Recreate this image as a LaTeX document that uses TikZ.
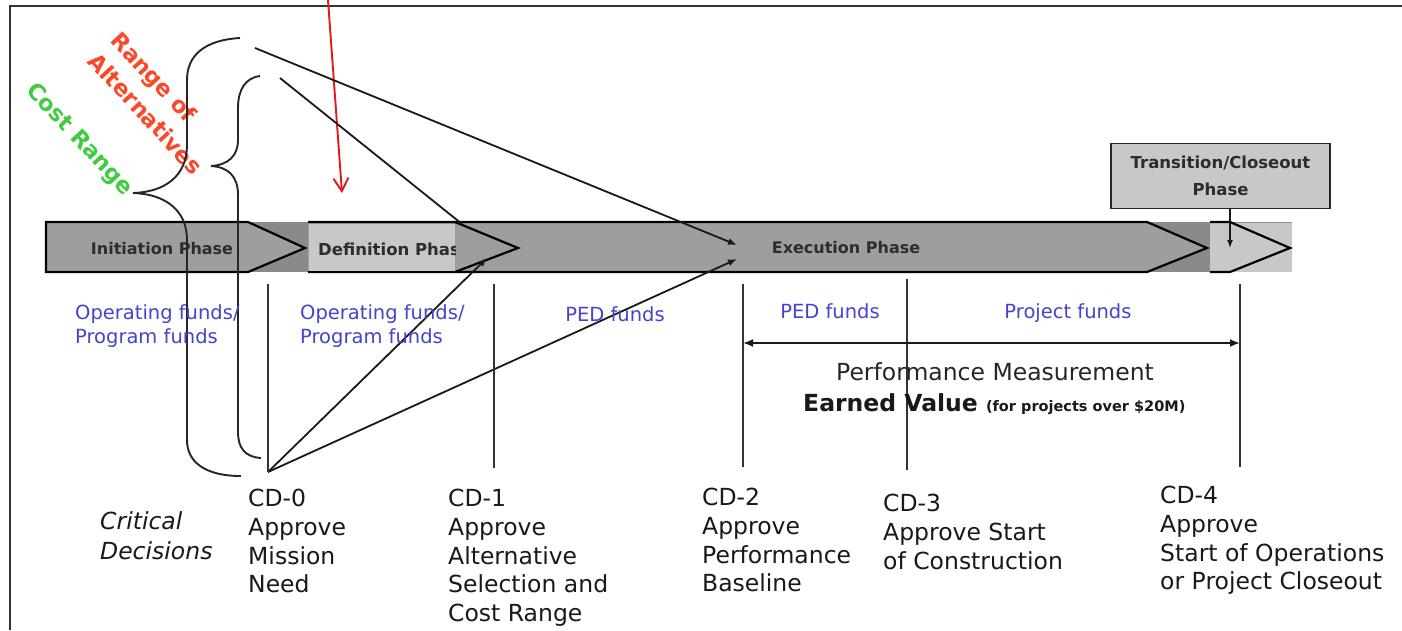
\documentclass[tikz,border=0pt]{standalone}
\usepackage{fontspec}
\setmainfont{DejaVu Sans}
\usetikzlibrary{arrows.meta}
\definecolor{bandgray}{RGB}{138,138,138}
\definecolor{arrowgray}{RGB}{158,158,158}
\definecolor{lightbox}{RGB}{200,200,200}
\definecolor{fundblue}{RGB}{68,68,204}
\definecolor{rangered}{RGB}{250,72,40}
\definecolor{costgreen}{RGB}{64,204,64}
\definecolor{labeldark}{RGB}{45,45,45}
\definecolor{redarrow}{RGB}{225,25,25}
\begin{document}
\begin{tikzpicture}[x=1pt,y=-1pt,
  outline/.style={draw=black, line width=2.2pt, line join=miter},
  phasetxt/.style={font=\fontsize{16}{19}\selectfont\bfseries, text=labeldark, inner sep=0pt},
  funds/.style={font=\fontsize{19.5}{24}\selectfont, text=fundblue, align=left, inner sep=0pt},
  cdtxt/.style={font=\fontsize{23.5}{28.7}\selectfont, text=black!90, align=left, anchor=north west, inner sep=0pt},
  cdline/.style={draw=black!80, line width=1.4pt},
  conn/.style={draw=black!90, line width=1.8pt},
  tipped/.style={conn, -{Latex[length=9pt,width=7pt]}},
  brace/.style={draw=black!85, line width=1.9pt},
  rotlabel/.style={font=\fontsize{22.5}{31}\selectfont\bfseries, rotate=-47, align=left, inner sep=0pt},
]
\useasboundingbox (0,0) rectangle (1402,630);
\fill[white] (0,0) rectangle (1402,630);
% frame
\draw[black!80, line width=1.8pt] (10,630) -- (10,6) -- (1402,6);

% phase band
\fill[bandgray] (46,222) rectangle (1292,272);
\path[fill=arrowgray, outline] (308,222) -- (1147,222) -- (1207,248) -- (1147,272) -- (308,272);
\fill[lightbox] (309,224) rectangle (455,271);
\draw[outline] (455,222) -- (518,248) -- (455,272);
\fill[lightbox] (1210,223) rectangle (1292,272);
\draw[outline] (1210,222) -- (1230,222) -- (1290,248) -- (1230,272) -- (1210,272);
\path[fill=arrowgray, outline] (46,222) -- (248,222) -- (305,248) -- (248,272) -- (46,272) -- cycle;

\node[phasetxt] (init) at (162,249) {Initiation Phase};
\begin{scope}
  \clip (309,222) rectangle (455,272);
  \node[phasetxt, font=\fontsize{16.5}{19}\selectfont\bfseries, anchor=west] (defn) at (318,249) {Definition Phase};
\end{scope}
\node[phasetxt] (exec) at (846,248) {Execution Phase};

% transition box
\node[draw=black!85, line width=1.8pt, fill=lightbox, minimum width=219pt, minimum height=65pt,
      align=center, font=\fontsize{16.5}{27.5}\selectfont\bfseries, text=labeldark, inner sep=0pt]
      (trans) at (1220.5,176) {Transition/Closeout\\Phase};
\coordinate (transtip) at (1230,248);
\draw[conn, line width=1.3pt, -{Latex[length=8pt,width=6pt]}] (trans.south -| transtip) -- (transtip);

% red arrow
\coordinate (redtop) at (328,0);
\coordinate (redtip) at (342,193);
\draw[redarrow, line width=1.9pt, -{Straight Barb[length=13pt,width=15pt]}] (redtop) -- (redtip);

% rotated labels
\node[rotlabel, text=rangered] (range) at (157,103) {Range of\\Alternatives};
\node[rotlabel, text=costgreen] (cost) at (79,140) {Cost Range};

% braces
\draw[brace] (240,38) .. controls (205,40) and (187,55) .. (187,80) -- (187,145)
  .. controls (187,176) and (165,192) .. (133,193)
  .. controls (165,194) and (187,210) .. (187,240) -- (187,440)
  .. controls (187,462) and (205,476) .. (241,476);
\draw[brace] (260,76) .. controls (245,78) and (238,90) .. (238,108) -- (238,140)
  .. controls (238,156) and (228,165) .. (211,166)
  .. controls (228,167) and (238,176) .. (238,195) -- (238,432)
  .. controls (238,448) and (245,457) .. (261,458);

% connectors
\coordinate (ra) at (255,48);
\coordinate (rb) at (280,78);
\coordinate (cd0) at (268,472);
\coordinate (extop) at (737,245);
\coordinate (exbot) at (737,259);
\coordinate (deftip) at (487,258);
\coordinate (deftop) at (462,224);
\draw[tipped] (ra) -- (extop);
\draw[conn] (rb) -- (deftop);
\draw[tipped] (cd0) -- (deftip);
\draw[tipped] (cd0) -- (exbot);

% CD lines
\coordinate (l0t) at (268,284);
\coordinate (l1t) at (494,284); \coordinate (l1b) at (494,468);
\coordinate (l2t) at (743,284); \coordinate (l2b) at (743,467);
\coordinate (l3t) at (907,279); \coordinate (l3b) at (907,470);
\coordinate (l4t) at (1240,284); \coordinate (l4b) at (1240,467);
\draw[cdline] (l0t) -- (cd0);
\draw[cdline] (l1t) -- (l1b);
\draw[cdline] (l2t) -- (l2b);
\draw[cdline] (l3t) -- (l3b);
\draw[cdline] (l4t) -- (l4b);

% funds
\node[funds, anchor=north west] (f1) at (75,304) {Operating funds/\\Program funds};
\node[funds, anchor=north west] (f2) at (300,304) {Operating funds/\\Program funds};
\node[funds] (ped1) at (615,314) {PED funds};
\node[funds] (ped2) at (830,311) {PED funds};
\node[funds, anchor=base] (proj) at (1068,318) {Project funds};

% performance measurement
\coordinate (pml) at (743,343);
\coordinate (pmr) at (1240,343);
\draw[conn, {Latex[length=10pt,width=8pt]}-{Latex[length=10pt,width=8pt]}] (pml) -- (pmr);
\node[font=\fontsize{23.5}{28}\selectfont, text=black!85, inner sep=0pt] (pm) at (995,372) {Performance Measurement};
\node[anchor=base west, inner sep=0pt, text=black!90] (ev) at (803,411)
  {\fontsize{23.5}{26}\selectfont\bfseries Earned Value \fontsize{14.5}{16}\selectfont(for projects over \$20M)};

% critical decisions
\node[cdtxt, font=\fontsize{23.5}{30}\selectfont\itshape] (crit) at (100,511) {Critical\\Decisions};
\node[cdtxt] (cd0t) at (248,489) {CD-0\\Approve\\Mission\\Need};
\node[cdtxt] (cd1t) at (448,489) {CD-1\\Approve\\Alternative\\Selection and\\Cost Range};
\node[cdtxt] (cd2t) at (702,488) {CD-2\\Approve\\Performance\\Baseline};
\node[cdtxt] (cd3t) at (883,494) {CD-3\\Approve Start\\of Construction};
\node[cdtxt] (cd4t) at (1160,486) {CD-4\\Approve\\Start of Operations\\or Project Closeout};
\end{tikzpicture}
\end{document}
